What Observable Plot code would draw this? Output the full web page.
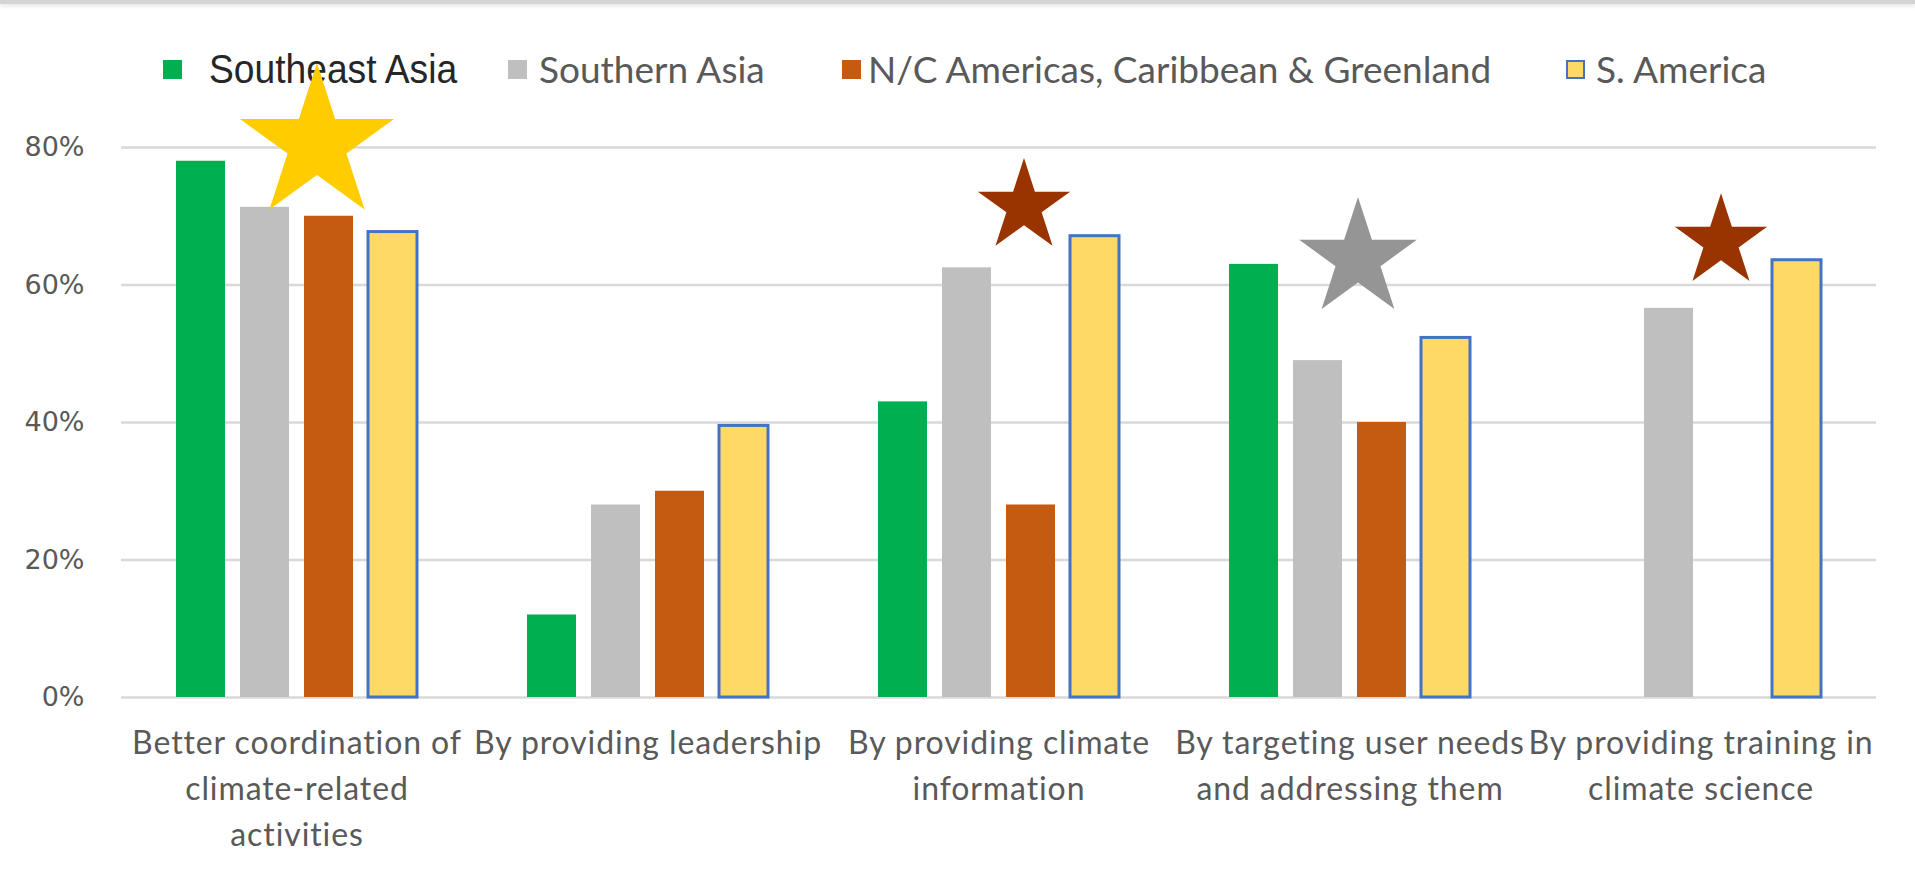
<!DOCTYPE html>
<html>
<head>
<meta charset="utf-8">
<script src="https://cdn.jsdelivr.net/npm/d3@7"></script>
<script src="https://cdn.jsdelivr.net/npm/@observablehq/plot@0.6"></script>
<style>
  html, body { margin: 0; padding: 0; background: #fff; overflow: hidden; }
  body { width: 1915px; height: 874px; position: relative; }
  #topline { position: absolute; left: 0; top: 0; width: 1915px; height: 4px; background: #d4d4d4; box-shadow: 0 2px 4px rgba(0,0,0,0.12); z-index: 3; }
  #legend { position: relative; height: 100px; width: 1915px; }
  .sw { position: absolute; top: 60px; width: 19px; height: 19px; box-sizing: border-box; }
  .lt { position: absolute; top: 49px; height: 40px; line-height: 40px; white-space: nowrap; transform-origin: left center; }
  #chart { position: relative; z-index: 2; }
  #chart svg { overflow: visible; }
  #chart g[aria-label="fx-axis tick label"] text { letter-spacing: 0.9px; }
</style>
</head>
<body>
<div id="topline"></div>
<div id="legend"></div>
<div id="chart"></div>
<script>
// ---- data ----
const categories = [
  "Better coordination of climate-related activities",
  "By providing leadership",
  "By providing climate information",
  "By targeting user needs and addressing them",
  "By providing training in climate science"
];
const categoryLabels = [
  "Better coordination of\nclimate-related\nactivities",
  "By providing leadership",
  "By providing climate\ninformation",
  "By targeting user needs\nand addressing them",
  "By providing training in\nclimate science"
];
const series = ["Southeast Asia", "Southern Asia", "N/C Americas, Caribbean & Greenland", "S. America"];
const southeastAsia = [78, 12, 43, 63, null];
const southernAsia = [71.3, 28, 62.5, 49, 56.6];
const ncAmericas = [70, 30, 28, 40, null];
const sAmerica = [67.7, 39.5, 67.1, 52.3, 63.6];
const yTicks = [0, 20, 40, 60, 80];
// star annotations: category index and level (%)
const starCategory = [0, 2, 3, 4];
const starLevel = [80.5, 71.4, 63.8, 66.3];

// ---- build table ----
const valuesBySeries = [southeastAsia, southernAsia, ncAmericas, sAmerica];
const table = [];
series.forEach((s, si) => {
  categories.forEach((c, ci) => {
    const v = valuesBySeries[si][ci];
    if (v != null) table.push({category: c, series: s, value: v});
  });
});
const stars = starCategory.map((ci, i) => ({category: categories[ci], level: starLevel[i]}));

// ---- styles ----
const colors = ["#00B050", "#BFBFBF", "#C55A11", "#FFD966"];
const borderBlue = "#4472C4";
const starStyles = [
  {fill: "#FFCC00", r: 48.4, dx: 20},
  {fill: "#993300", r: 29, dx: 25},
  {fill: "#959595", r: 37, dx: 8},
  {fill: "#993300", r: 29, dx: 20}
];

// ---- legend (HTML, above the chart) ----
const legend = document.getElementById("legend");
const swLeft = [163, 508, 842, 1566];
const txtLeft = [209, 539, 868, 1596];
series.forEach((s, i) => {
  const sw = document.createElement("div");
  sw.className = "sw";
  sw.style.left = swLeft[i] + "px";
  sw.style.background = colors[i];
  if (i === 3) sw.style.border = "2px solid " + borderBlue;
  legend.appendChild(sw);
  const t = document.createElement("div");
  t.className = "lt";
  t.style.left = txtLeft[i] + "px";
  t.textContent = s;
  if (i === 0) {
    t.style.fontFamily = "'Liberation Sans', Arial, sans-serif";
    t.style.fontSize = "40px";
    t.style.color = "#262626";
    t.style.transform = "scaleX(0.93)";
  } else {
    t.style.fontFamily = "Lato, sans-serif";
    t.style.fontSize = "37px";
    t.style.color = "#595959";
  }
  legend.appendChild(t);
});

// ---- chart ----
const chart = Plot.plot({
  width: 1915,
  height: 774,
  marginTop: 47,
  marginBottom: 177,
  marginLeft: 120,
  marginRight: 38,
  style: {overflow: "visible", background: "transparent"},
  fx: {domain: categories, padding: 0},
  x: {domain: series, paddingInner: 0.233, paddingOuter: 0.845, axis: null},
  y: {domain: [0, 80]},
  color: {domain: series, range: colors},
  marks: [
    Plot.gridY({ticks: yTicks, stroke: "#d9d9d9", strokeOpacity: 1, strokeWidth: 2.5}),
    Plot.axisY({ticks: yTicks, tickSize: 0, tickPadding: 37, tickFormat: d => d + "%",
      fontSize: 27, fontFamily: "DejaVu Sans", fill: "#595959", label: null}),
    Plot.axisFx({anchor: "bottom", tickSize: 0, tickPadding: 24, label: null,
      tickFormat: d => categoryLabels[categories.indexOf(d)],
      fontSize: 32, fontFamily: "Lato", fill: "#595959", lineHeight: 1.43}),
    Plot.barY(table.filter(d => d.series !== "S. America"),
      {fx: "category", x: "series", y: "value", fill: "series"}),
    Plot.barY(table.filter(d => d.series === "S. America"),
      {fx: "category", x: "series", y: "value", fill: "series", stroke: borderBlue, strokeWidth: 3}),
    ...stars.map((s, i) => Plot.dot([s], {
      fx: "category", y: "level", symbol: "star",
      r: starStyles[i].r, fill: starStyles[i].fill, stroke: "none", dx: starStyles[i].dx
    }))
  ]
});
document.getElementById("chart").appendChild(chart);
</script>
</body>
</html>
